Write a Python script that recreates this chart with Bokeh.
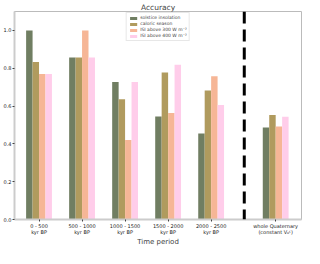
from bokeh.plotting import figure
from bokeh.models import ColumnDataSource, Range1d, FixedTicker, Span, Legend, LegendItem, PrintfTickFormatter
from bokeh.transform import dodge
from bokeh.embed import file_html
from bokeh.resources import INLINE

positions = [0, 1, 2, 3, 4, 5.5]
tick_labels = ["0 - 500\nkyr BP", "500 - 1000\nkyr BP", "1000 - 1500\nkyr BP",
               "1500 - 2000\nkyr BP", "2000 - 2500\nkyr BP", "whole Quaternary\n(constant V\u2080\u1d9c)"]
solstice = [1.0, 0.857, 0.727, 0.545, 0.455, 0.487]
caloric = [0.833, 0.857, 0.636, 0.778, 0.682, 0.552]
isi300 = [0.769, 1.0, 0.421, 0.563, 0.757, 0.492]
isi400 = [0.769, 0.857, 0.727, 0.818, 0.606, 0.543]
series_names = ["solstice insolation", "caloric season",
                "ISI above 300 W m\u207b\u00b2", "ISI above 400 W m\u207b\u00b2"]
colors = ["#707e62", "#b09b5e", "#f6b696", "#ffcdea"]
separator = 4.77

src = ColumnDataSource(dict(x=positions, s=solstice, c=caloric, i3=isi300, i4=isi400))

p = figure(width=304, height=248, output_backend="svg", toolbar_location=None,
           x_range=Range1d(-0.57, 6.1), y_range=Range1d(0, 1.1),
           title="Accuracy", min_border_left=0, min_border_right=3,
           min_border_top=0, min_border_bottom=0)
p.title.align = "center"
p.title.text_font = "DejaVu Sans"
p.title.text_font_size = "7.5px"
p.title.text_font_style = "normal"
p.title.offset = 0
p.title.standoff = 0

w = 0.15
offs = [-0.225, -0.075, 0.075, 0.225]
cols = ["s", "c", "i3", "i4"]
items = []
for name, col, off, colr in zip(series_names, cols, offs, colors):
    r = p.vbar(x=dodge("x", off), top=col, width=w, source=src,
               fill_color=colr, line_color=None)
    items.append(LegendItem(label=name, renderers=[r]))

p.add_layout(Span(location=separator, dimension="height", line_color="black",
                  line_width=3, line_dash="12 6"))

leg = Legend(items=items, location="top", margin=1, padding=2, spacing=1,
             glyph_width=9, glyph_height=4, label_height=5, label_standoff=3,
             label_text_font_size="4.5px", label_text_font="DejaVu Sans",
             border_line_color="#d0d0d0", border_line_width=1,
             background_fill_alpha=0.9)
p.add_layout(leg)

p.xaxis.ticker = FixedTicker(ticks=positions)
p.xaxis.major_label_overrides = {pos: lab for pos, lab in zip(positions, tick_labels)}
p.xaxis.axis_label = "Time period"
p.xaxis.axis_label_text_font = "DejaVu Sans"
p.xaxis.axis_label_text_font_size = "7px"
p.xaxis.axis_label_text_font_style = "normal"
p.xaxis.axis_label_standoff = 0
p.xaxis.major_label_text_line_height = 1.0
p.yaxis.ticker = FixedTicker(ticks=[0, 0.2, 0.4, 0.6, 0.8, 1.0])
p.yaxis.formatter = PrintfTickFormatter(format="%.1f")
for ax in (p.xaxis, p.yaxis):
    ax.major_label_text_font = "DejaVu Sans"
    ax.major_label_text_font_size = "5px"
    ax.major_label_text_color = "#222222"
    ax.major_tick_in = 0
    ax.major_tick_out = 2
    ax.major_tick_line_color = "#444444"
    ax.minor_tick_line_color = None
    ax.major_label_standoff = 1
    ax.axis_line_color = "#cccccc"
    ax.axis_line_width = 2
p.xgrid.grid_line_color = None
p.ygrid.grid_line_color = None
p.outline_line_color = "#bbbbbb"
p.outline_line_width = 1

open("out.html", "w").write(file_html(p, INLINE))
